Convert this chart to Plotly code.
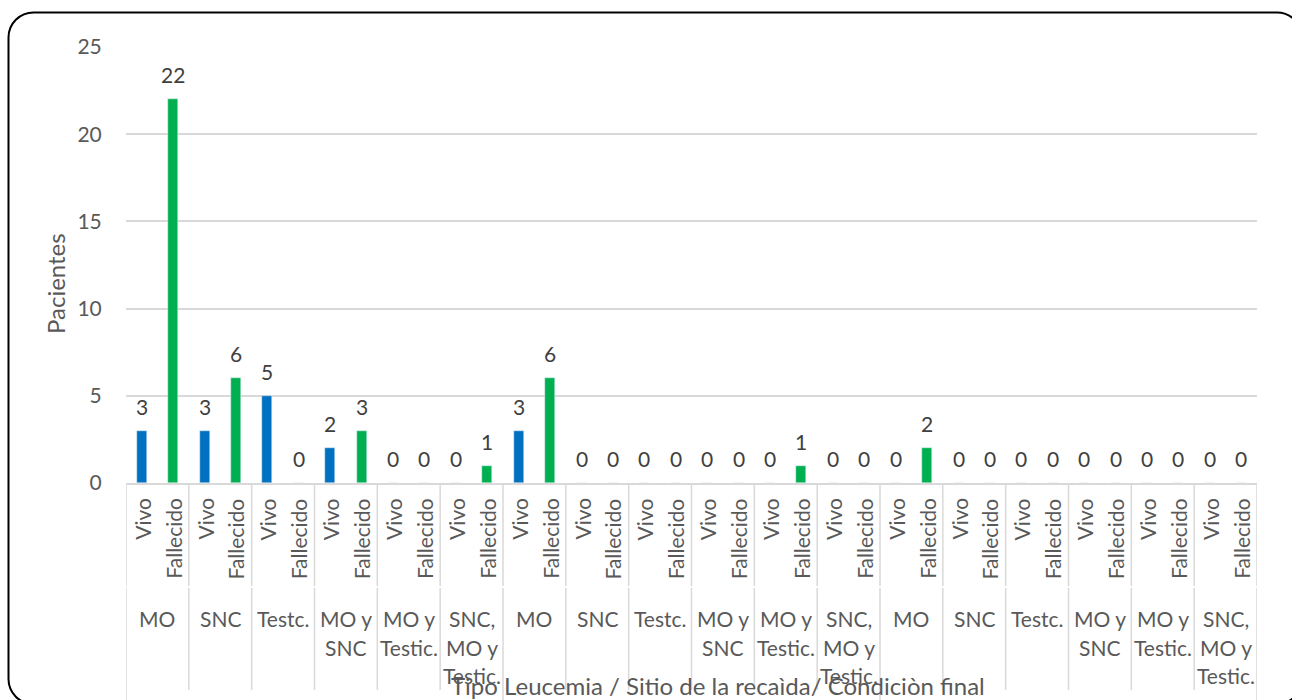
import plotly.graph_objects as go

# Relapse site per leukemia type, split by final condition
site_lines = [["MO"], ["SNC"], ["Testc."], ["MO y", "SNC"], ["MO y", "Testic."], ["SNC,", "MO y", "Testic."]] * 3
conditions = ["Vivo", "Fallecido"]
vivo = [3, 3, 5, 2, 0, 0, 3, 0, 0, 0, 0, 0, 0, 0, 0, 0, 0, 0]
fallecido = [22, 6, 0, 3, 0, 1, 6, 0, 0, 0, 1, 0, 2, 0, 0, 0, 0, 0]
y_ticks = [0, 5, 10, 15, 20, 25]

BLUE = "#0070C0"
GREEN = "#00B050"
GRID = "#D9D9D9"
TXT = "#595959"
LBL = "#404040"
FONT = "Lato"

W, H = 1292, 700
L, R, T, B = 126, 1257, 47, 483
PW, PH = R - L, B - T


def px(x):
    return (x - L) / PW


def py(y):
    return (B - y) / PH


n = len(vivo)
x_vivo = [2 * g for g in range(n)]
x_fall = [2 * g + 1 for g in range(n)]

fig = go.Figure()
fig.add_trace(go.Bar(x=x_vivo, y=vivo, name="Vivo", marker_color=BLUE, width=0.32))
fig.add_trace(go.Bar(x=x_fall, y=fallecido, name="Fallecido", marker_color=GREEN, width=0.32))

ann = []
# value labels above each bar
for xs, vals in ((x_vivo, vivo), (x_fall, fallecido)):
    for x, v in zip(xs, vals):
        ann.append(dict(x=x, y=v, xref="x", yref="y", text=str(v), showarrow=False,
                        yanchor="bottom", yshift=10, font=dict(family=FONT, size=21, color=LBL)))

# inner level: condition labels, rotated
for g in range(n):
    for k, c in enumerate(conditions):
        ann.append(dict(x=2 * g + k, y=py(496), xref="x", yref="paper", text=c, showarrow=False,
                        textangle=-90, yanchor="top", xanchor="center",
                        font=dict(family=FONT, size=21, color=TXT)))

# outer level: relapse site labels
line_y = [618, 647, 675]
for g, lines in enumerate(site_lines):
    for j, t in enumerate(lines):
        ann.append(dict(x=2 * g + 0.5, y=py(line_y[j]), xref="x", yref="paper", text=t,
                        showarrow=False, yanchor="middle", xanchor="center",
                        font=dict(family=FONT, size=21, color=TXT)))

# axis titles
ann.append(dict(x=px(718), y=py(685), xref="paper", yref="paper",
                text="Tipo Leucemia / Sitio de la recaìda/ Condiciòn final", showarrow=False,
                xanchor="center", yanchor="middle", font=dict(family=FONT, size=24, color=TXT)))
ann.append(dict(x=px(55), y=py(284), xref="paper", yref="paper", text="Pacientes",
                showarrow=False, textangle=-90, xanchor="center", yanchor="middle",
                font=dict(family=FONT, size=24, color=TXT)))

shapes = []
# category separators
for g in range(n + 1):
    xb = 2 * g - 0.5
    outer = g % 6 == 0
    shapes.append(dict(type="line", xref="x", yref="paper", x0=xb, x1=xb, y0=py(483), y1=py(586),
                       line=dict(color=GRID, width=1.5)))
    shapes.append(dict(type="line", xref="x", yref="paper", x0=xb, x1=xb, y0=py(588),
                       y1=py(705 if outer else 690), line=dict(color=GRID, width=1.5)))

# rounded outer frame
fx0, fy0, fx1, fy1, r = 8.5, 12.5, 1302, 704, 25
k = 0.5523 * r
pts = [
    f"M {px(fx0 + r)},{py(fy0)}",
    f"L {px(fx1 - r)},{py(fy0)}",
    f"C {px(fx1 - r + k)},{py(fy0)} {px(fx1)},{py(fy0 + r - k)} {px(fx1)},{py(fy0 + r)}",
    f"L {px(fx1)},{py(fy1 - r)}",
    f"C {px(fx1)},{py(fy1 - r + k)} {px(fx1 - r + k)},{py(fy1)} {px(fx1 - r)},{py(fy1)}",
    f"L {px(fx0 + r)},{py(fy1)}",
    f"C {px(fx0 + r - k)},{py(fy1)} {px(fx0)},{py(fy1 - r + k)} {px(fx0)},{py(fy1 - r)}",
    f"L {px(fx0)},{py(fy0 + r)}",
    f"C {px(fx0)},{py(fy0 + r - k)} {px(fx0 + r - k)},{py(fy0)} {px(fx0 + r)},{py(fy0)}",
    "Z",
]
shapes.append(dict(type="path", xref="paper", yref="paper", path=" ".join(pts),
                   line=dict(color="black", width=2)))

fig.update_layout(
    width=W, height=H,
    margin=dict(l=L, r=W - R, t=T, b=H - B),
    paper_bgcolor="white", plot_bgcolor="white",
    showlegend=False,
    bargap=0,
    font=dict(family=FONT, color=TXT),
    annotations=ann,
    shapes=shapes,
    xaxis=dict(range=[-0.5, 2 * n - 0.5], showticklabels=False, showgrid=False, zeroline=False,
               showline=True, linecolor=GRID, linewidth=1.5, ticks=""),
    yaxis=dict(range=[0, 25], tickvals=y_ticks, showgrid=True, gridcolor=GRID, gridwidth=1.5,
               zeroline=False, showline=False, ticks="outside", ticklen=19,
               tickcolor="rgba(0,0,0,0)", tickfont=dict(family=FONT, size=21, color=TXT)),
)

fig.write_html("out.html")
